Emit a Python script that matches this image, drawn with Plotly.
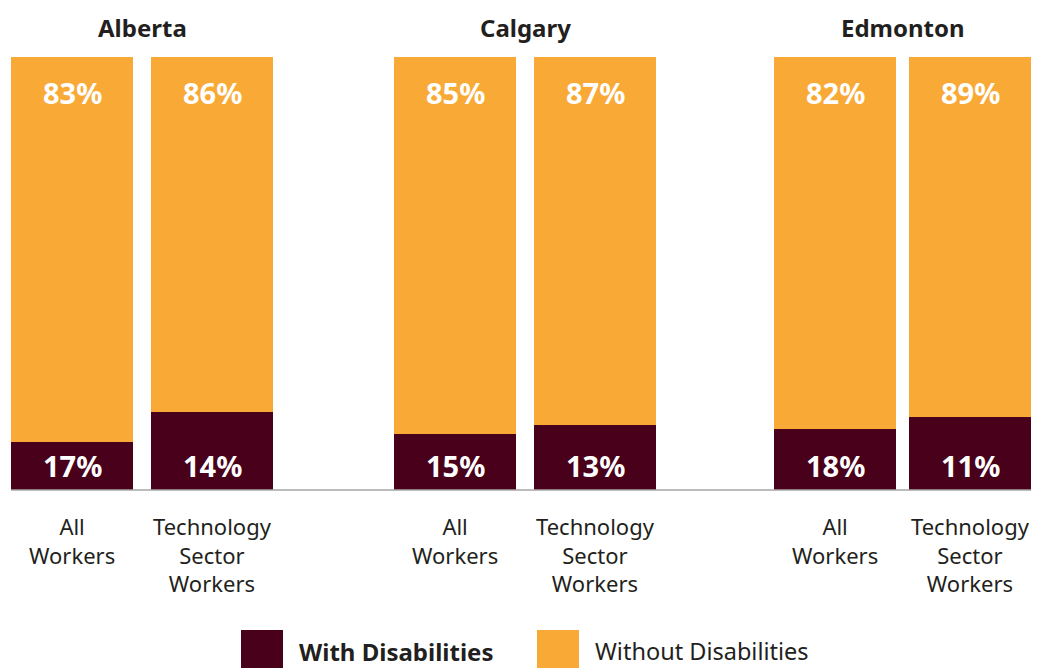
import plotly.graph_objects as go

# ---- data ----
regions = ["Alberta", "Calgary", "Edmonton"]
categories = ["All<br>Workers", "Technology<br>Sector<br>Workers"]
# heights of the "With Disabilities" segments as drawn in the picture (% of bar)
with_drawn = {
    "Alberta": [11.1, 18.0],
    "Calgary": [12.9, 15.0],
    "Edmonton": [14.1, 16.9],
}
# printed labels
with_labels = {
    "Alberta": ["17%", "14%"],
    "Calgary": ["15%", "13%"],
    "Edmonton": ["18%", "11%"],
}
without_labels = {
    "Alberta": ["83%", "86%"],
    "Calgary": ["85%", "87%"],
    "Edmonton": ["82%", "89%"],
}
series_names = ["With Disabilities", "Without Disabilities"]

DARK = "#48001b"
ORANGE = "#f9a935"
TEXT = "#231f20"
FONT = "Noto Sans"

OFF = 8  # page body margin
W, H = 1044 - OFF, 668 - OFF


def px(x):
    return (x - OFF) / W


def py(y):
    return (H - (y - OFF)) / H


x_domains_px = [(2, 282), (385, 665), (767.5, 1037.5)]
bar_widths = [122 / 140, 122 / 140, 122 / 135]
y_top_px, y_bot_px = 57, 490
ydom = [py(y_bot_px), py(y_top_px)]

fig = go.Figure()
for i, r in enumerate(regions):
    ax = "" if i == 0 else str(i + 1)
    wd = with_drawn[r]
    wo = [100 - v for v in wd]
    fig.add_trace(go.Bar(x=categories, y=wd, name=series_names[0], marker_color=DARK,
                         marker_line_width=0, width=bar_widths[i],
                         xaxis="x" + ax, yaxis="y" + ax, showlegend=False,
                         hoverinfo="skip"))
    fig.add_trace(go.Bar(x=categories, y=wo, name=series_names[1], marker_color=ORANGE,
                         marker_line_width=0, width=bar_widths[i],
                         xaxis="x" + ax, yaxis="y" + ax, showlegend=False,
                         hoverinfo="skip"))
    d0, d1 = x_domains_px[i]
    slot = (d1 - d0) / 2
    d0c = max(d0, OFF)
    rng = [-0.5 + (d0c - d0) / slot, 1.5]
    fig.update_layout(**{
        "xaxis" + ax: dict(domain=[px(d0c), px(d1)], type="category", range=rng,
                           showgrid=False, zeroline=False, showline=False, ticks="",
                           showticklabels=False, fixedrange=True),
        "yaxis" + ax: dict(domain=ydom, range=[0, 100], visible=False,
                           anchor="x" + ax, fixedrange=True),
    })
    # region title
    fig.add_annotation(text="<b>%s</b>" % r, xref="paper", yref="paper",
                       x=px((d0 + d1) / 2), y=py(27), xanchor="center",
                       yanchor="middle", showarrow=False,
                       font=dict(family=FONT, size=24, color=TEXT))
    for j, c in enumerate(categories):
        # value labels
        fig.add_annotation(text="<b>%s</b>" % without_labels[r][j], x=c, y=100,
                           xref="x" + ax, yref="y" + ax, yshift=-36,
                           showarrow=False, yanchor="middle",
                           font=dict(family=FONT, size=29, color="white"))
        fig.add_annotation(text="<b>%s</b>" % with_labels[r][j], x=c, y=0,
                           xref="x" + ax, yref="y" + ax, yshift=25,
                           showarrow=False, yanchor="middle",
                           font=dict(family=FONT, size=29, color="white"))
        # category label
        fig.add_annotation(text=c, x=c, y=0, xref="x" + ax, yref="y" + ax,
                           yshift=-19, showarrow=False, yanchor="top",
                           align="center",
                           font=dict(family=FONT, size=22, color=TEXT))

# baseline
fig.add_shape(type="line", xref="paper", yref="paper", x0=px(11), x1=px(1031),
              y0=py(y_bot_px), y1=py(y_bot_px),
              line=dict(color="#a6a6a6", width=1.5), layer="above")

# custom legend
legend_items = [(series_names[0], DARK, True, 241, 24),
                (series_names[1], ORANGE, False, 537, 23.5)]
for name, col, bold, x0, fs in legend_items:
    fig.add_shape(type="rect", xref="paper", yref="paper",
                  x0=px(x0), x1=px(x0 + 42), y0=py(672), y1=py(630),
                  fillcolor=col, line_width=0)
    fig.add_annotation(text=("<b>%s</b>" % name) if bold else name, xref="paper",
                       yref="paper", x=px(x0 + 56), y=py(651),
                       xanchor="left", yanchor="middle", showarrow=False,
                       font=dict(family=FONT, size=fs, color=TEXT))

fig.update_layout(width=W, height=H, margin=dict(l=0, r=0, t=0, b=0),
                  barmode="stack", plot_bgcolor="white",
                  paper_bgcolor="white", showlegend=False)

fig.write_html("out.html", config={"displayModeBar": False})
